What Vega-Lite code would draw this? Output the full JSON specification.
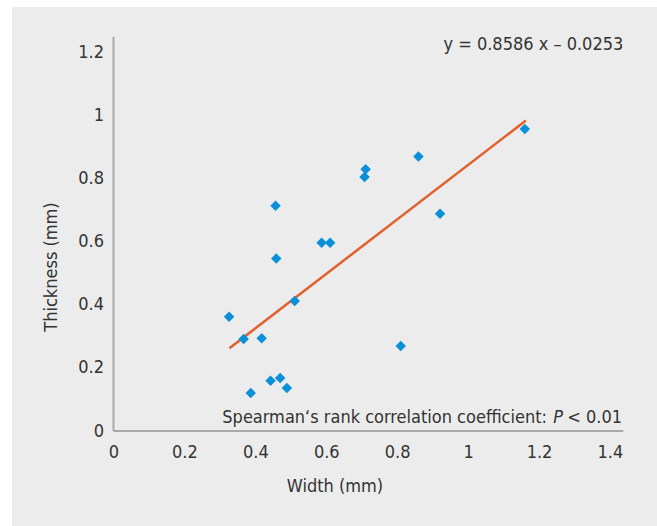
{
  "$schema": "https://vega.github.io/schema/vega-lite/v6.json",
  "width": 645,
  "height": 519,
  "autosize": {"type": "none"},
  "padding": {"left": 12, "top": 7, "right": 0, "bottom": 0},
  "background": "#ffffff",
  "config": {
    "view": {"fill": "#ebeceb", "stroke": null},
    "font": "DejaVu Sans Condensed",
    "axis": {
      "grid": false,
      "domain": false,
      "ticks": false,
      "labelFont": "DejaVu Sans Condensed",
      "labelFontSize": 18,
      "labelColor": "#333333",
      "titleFont": "DejaVu Sans Condensed",
      "titleFontSize": 18,
      "titleFontWeight": "normal",
      "titleColor": "#333333",
      "format": "~g"
    }
  },
  "datasets": {
    "points": [
      {"x": 0.326, "y": 0.362},
      {"x": 0.367, "y": 0.291},
      {"x": 0.387, "y": 0.120},
      {"x": 0.418, "y": 0.294},
      {"x": 0.443, "y": 0.159},
      {"x": 0.470, "y": 0.168},
      {"x": 0.489, "y": 0.136},
      {"x": 0.457, "y": 0.713},
      {"x": 0.459, "y": 0.546},
      {"x": 0.511, "y": 0.412},
      {"x": 0.587, "y": 0.596},
      {"x": 0.611, "y": 0.596},
      {"x": 0.708, "y": 0.804},
      {"x": 0.711, "y": 0.829},
      {"x": 0.810, "y": 0.269},
      {"x": 0.860, "y": 0.869},
      {"x": 0.921, "y": 0.688},
      {"x": 1.160, "y": 0.956}
    ],
    "fit": [
      {"x": 0.327, "y": 0.262},
      {"x": 1.163, "y": 0.983}
    ],
    "axislines": [
      {"x": 0, "y": 0, "x2": 0, "y2": 1.2486},
      {"x": 0, "y": 0, "x2": 1.4377, "y2": 0}
    ],
    "eq": [{"x": 1.4377, "y": 1.222, "text": "y = 0.8586 x – 0.0253"}],
    "sp1": [{"x": 1.434, "y": 0.041, "text": "Spearman‘s rank correlation coefficient:"}],
    "sp2": [{"x": 1.434, "y": 0.041, "text": "P"}],
    "sp3": [{"x": 1.434, "y": 0.041, "text": "< 0.01"}]
  },
  "layer": [
    {
      "data": {"name": "axislines"},
      "mark": {"type": "rule", "color": "#a9a9a9", "strokeWidth": 2},
      "encoding": {
        "x": {
          "field": "x", "type": "quantitative",
          "scale": {"domain": [-0.2862, 1.5327], "nice": false, "zero": false},
          "axis": {"orient": "bottom", "offset": -95, "values": [0, 0.2, 0.4, 0.6, 0.8, 1, 1.2, 1.4], "labelPadding": 12, "titlePadding": 16},
          "title": "Width (mm)"
        },
        "y": {
          "field": "y", "type": "quantitative",
          "scale": {"domain": [-0.3008, 1.3426], "nice": false, "zero": false},
          "axis": {"orient": "left", "offset": -101.5, "values": [0, 0.2, 0.4, 0.6, 0.8, 1, 1.2], "labelPadding": 10, "titlePadding": 17},
          "title": "Thickness (mm)"
        },
        "x2": {"field": "x2"},
        "y2": {"field": "y2"}
      }
    },
    {
      "data": {"name": "fit"},
      "mark": {"type": "line", "color": "#e2602e", "strokeWidth": 2.5},
      "encoding": {
        "x": {"field": "x", "type": "quantitative", "title": "Width (mm)"},
        "y": {"field": "y", "type": "quantitative", "title": "Thickness (mm)"}
      }
    },
    {
      "data": {"name": "points"},
      "mark": {"type": "point", "shape": "diamond", "filled": true, "color": "#0b8fd8", "opacity": 1, "size": 110},
      "encoding": {
        "x": {"field": "x", "type": "quantitative", "title": "Width (mm)"},
        "y": {"field": "y", "type": "quantitative", "title": "Thickness (mm)"}
      }
    },
    {
      "data": {"name": "eq"},
      "mark": {"type": "text", "align": "right", "baseline": "middle", "fontSize": 18, "color": "#333333"},
      "encoding": {
        "x": {"field": "x", "type": "quantitative", "title": "Width (mm)"},
        "y": {"field": "y", "type": "quantitative", "title": "Thickness (mm)"},
        "text": {"field": "text"}
      }
    },
    {
      "data": {"name": "sp3"},
      "mark": {"type": "text", "align": "right", "baseline": "middle", "fontSize": 18, "color": "#333333"},
      "encoding": {
        "x": {"field": "x", "type": "quantitative", "title": "Width (mm)"},
        "y": {"field": "y", "type": "quantitative", "title": "Thickness (mm)"},
        "text": {"field": "text"}
      }
    },
    {
      "data": {"name": "sp2"},
      "mark": {"type": "text", "align": "right", "baseline": "middle", "fontSize": 18, "fontStyle": "italic", "color": "#333333", "dx": -59},
      "encoding": {
        "x": {"field": "x", "type": "quantitative", "title": "Width (mm)"},
        "y": {"field": "y", "type": "quantitative", "title": "Thickness (mm)"},
        "text": {"field": "text"}
      }
    },
    {
      "data": {"name": "sp1"},
      "mark": {"type": "text", "align": "right", "baseline": "middle", "fontSize": 18, "color": "#333333", "dx": -75},
      "encoding": {
        "x": {"field": "x", "type": "quantitative", "title": "Width (mm)"},
        "y": {"field": "y", "type": "quantitative", "title": "Thickness (mm)"},
        "text": {"field": "text"}
      }
    }
  ]
}
